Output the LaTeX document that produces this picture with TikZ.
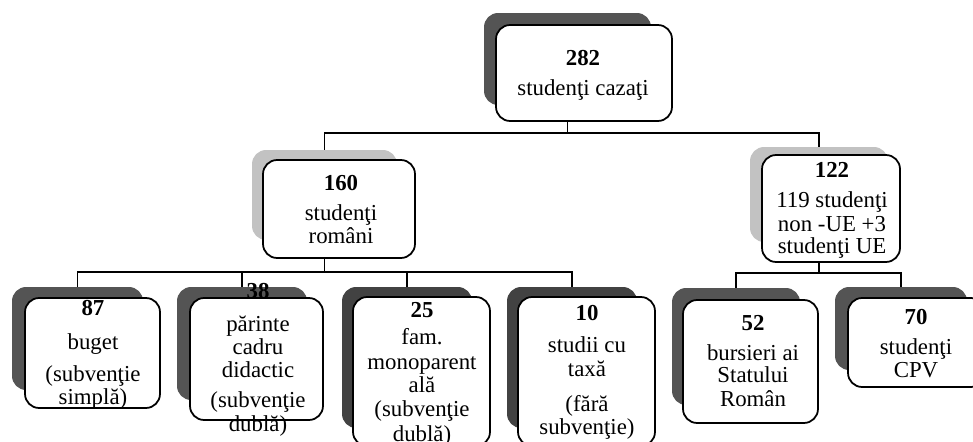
\documentclass[tikz,border=0pt]{standalone}
\usepackage{fontspec}
\setmainfont{Liberation Serif}

\definecolor{shadedark}{gray}{0.33}
\definecolor{shadedeep}{gray}{0.26}
\definecolor{shadelight}{gray}{0.76}

\tikzstyle{shade} = [rounded corners=8pt, inner sep=0pt]
\tikzstyle{card} = [draw, fill=white, line width=1pt, rounded corners=8pt, inner sep=0pt]
\tikzstyle{txt} = [align=center, inner sep=0pt, anchor=north, font=\fontsize{13}{13}\selectfont]
\tikzstyle{link} = [draw, line width=0.9pt]

\begin{document}
\begin{tikzpicture}[x=0.02cm, y=-0.02cm]
	\useasboundingbox (0,0) rectangle (973,442);

	% Top
	\node[shade, fill=shadedark, minimum width=3.34cm, minimum height=1.84cm] (s282) at (567.5,59) {};
	\node[card, minimum width=3.52cm, minimum height=1.92cm] (b282) at (584,73) {};
	\node[txt] (t282) at (583,50) {\textbf{282}\\[4pt] studenţi cazaţi};
	\coordinate (bus0) at (0,133);

	% Romanian students
	\node[shade, fill=shadelight, minimum width=2.90cm, minimum height=1.80cm] (s160) at (324.5,195) {};
	\node[card, minimum width=3.04cm, minimum height=1.96cm] (b160) at (339,209) {};
	\node[txt] (t160) at (341,175) {\textbf{160}\\[4pt] studenţi\\ români};
	\coordinate (bus1) at (0,272);

	% Foreign students
	\node[shade, fill=shadelight, minimum width=2.76cm, minimum height=1.90cm] (s122) at (819,194.5) {};
	\node[card, minimum width=2.76cm, minimum height=2.14cm] (b122) at (831,208.5) {};
	\node[txt] (t122) at (832,162) {\textbf{122}\\[4pt] 119 studenţi\\[1pt] non -UE +3\\[-1pt] studenţi UE};
	\coordinate (bus2) at (0,273);

	% Bottom row
	\node[shade, fill=shadedark, minimum width=2.62cm, minimum height=2.06cm] (s87) at (77.5,338.5) {};
	\node[card, minimum width=2.70cm, minimum height=2.20cm] (b87) at (92.5,353) {};
	\node[txt] (t87) at (93,300) {\textbf{87}\\[6.5pt] buget\\[5pt] (subvenţie\\ simplă)};

	\node[shade, fill=shadedark, minimum width=2.60cm, minimum height=2.26cm] (s38) at (242,343.5) {};
	\node[card, minimum width=2.66cm, minimum height=2.44cm] (b38) at (256.5,359) {};
	\node[txt] (t38) at (258,283) {\textbf{38}\\[6pt] părinte\\ cadru\\ didactic\\[4pt] (subvenţie\\[0.5pt] dublă)};

	\node[shade, fill=shadedeep, minimum width=2.60cm, minimum height=2.82cm] (s25) at (407,357.5) {};
	\node[card, minimum width=2.74cm, minimum height=2.98cm] (b25) at (421.5,371.5) {};
	\node[txt] (t25) at (422,302) {\textbf{25}\\[2.5pt] fam.\\[1pt] monoparent\\ ală\\[1pt] (subvenţie\\[1pt] dublă)};

	\node[shade, fill=shadedeep, minimum width=2.60cm, minimum height=2.82cm] (s10) at (572,357.5) {};
	\node[card, minimum width=2.74cm, minimum height=2.98cm] (b10) at (586.5,371.5) {};
	\node[txt] (t10) at (587,305) {\textbf{10}\\[5pt] studii cu\\[1pt] taxă\\[7pt] (fără\\ subvenţie)};

	\node[shade, fill=shadedark, minimum width=2.56cm, minimum height=2.34cm] (s52) at (736,346.5) {};
	\node[card, minimum width=2.70cm, minimum height=2.46cm] (b52) at (750.5,361.5) {};
	\node[txt] (t52) at (753,315) {\textbf{52}\\[4pt] bursieri ai\\[-0.5pt] Statului\\[1pt] Român};

	\node[shade, fill=shadedark, minimum width=2.64cm, minimum height=1.66cm] (s70) at (901,328.5) {};
	\node[card, minimum width=2.74cm, minimum height=1.78cm] (b70) at (916.5,342.5) {};
	\node[txt] (t70) at (916,309) {\textbf{70}\\[4pt] studenţi\\ CPV};

	% Connectors
	\path[link] (s282 |- b282.south) -- (s282 |- bus0);
	\path[link] (s160.north) -- (s160 |- bus0) -- (s122 |- bus0) -- (s122.north);
	\path[link] (s160 |- b160.south) -- (s160 |- bus1);
	\path[link] (s87.north) -- (s87 |- bus1) -- (s10 |- bus1) -- (s10.north);
	\path[link] (s38 |- bus1) -- (s38.north);
	\path[link] (s25 |- bus1) -- (s25.north);
	\path[link] (s122 |- b122.south) -- (s122 |- bus2);
	\path[link] (s52.north) -- (s52 |- bus2) -- (s70 |- bus2) -- (s70.north);

\end{tikzpicture}
\end{document}
